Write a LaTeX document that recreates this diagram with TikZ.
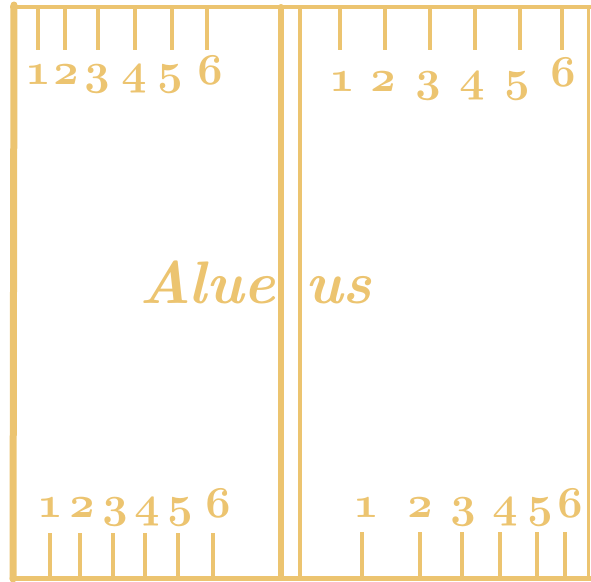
\RequirePackage{fix-cm}
\documentclass[tikz,border=0pt]{standalone}
\usepackage{tikz}
\usetikzlibrary{positioning}
\definecolor{boardgold}{RGB}{236,196,112}
\newcommand{\osn}[1]{$\mathnormal{#1}$}

\begin{document}
\begin{tikzpicture}[x={(1pt,0)}, y={(0,-1pt)}]
\tikzset{
  frame/.style={draw=boardgold, line width=4pt, line cap=round},
  tick/.style={draw=boardgold, line width=4pt},
  num/.style={text=boardgold, anchor=base, inner sep=0pt,
    font=\fontsize{44}{44}\selectfont\boldmath},
  word/.style={text=boardgold, inner sep=0pt,
    font=\fontsize{60}{60}\selectfont\bfseries\itshape}
}
\useasboundingbox (0,0) rectangle (591,581);

\draw[frame, line width=7pt] (14,5) -- (13,579);
\draw[frame] (12,7) -- (591,7);
\draw[frame, line width=3pt] (588,7) -- (588,578);
\draw[frame, line width=5pt] (12,578) -- (591,578);

\node[word, anchor=base east] (alue) at (276,303) {Alue};
\node[word, anchor=base west] (us) at (305,303) {us};

\draw[frame, line width=6pt] (281,7) -- (281,578);
\draw[frame] (300,7) -- (300,578);

\draw[tick] (38,7) -- (38,50);
\draw[tick] (65,7) -- (65,50);
\draw[tick] (98,7) -- (98,50);
\draw[tick] (135,7) -- (135,50);
\draw[tick] (172,7) -- (172,50);
\draw[tick] (207,7) -- (207,50);

\draw[tick] (340,7) -- (340,50);
\draw[tick] (385,7) -- (385,50);
\draw[tick] (430,7) -- (430,50);
\draw[tick] (475,7) -- (475,50);
\draw[tick] (520,7) -- (520,50);
\draw[tick] (562,7) -- (562,50);

\draw[tick] (50,533) -- (50,578);
\draw[tick] (80,533) -- (80,578);
\draw[tick] (113,533) -- (113,578);
\draw[tick] (145,533) -- (145,578);
\draw[tick] (178,533) -- (178,578);
\draw[tick] (213,533) -- (213,578);

\draw[tick] (362,532) -- (362,578);
\draw[tick] (420,532) -- (420,578);
\draw[tick] (462,532) -- (462,578);
\draw[tick] (500,532) -- (500,578);
\draw[tick] (537,532) -- (537,578);
\draw[tick] (565,532) -- (565,578);

\node[num] (tl1) at (38,84) {\osn{1}};
\node[num] (tl2) at (66,84) {\osn{2}};
\node[num] (tl3) at (97,84) {\osn{3}};
\node[num] (tl4) at (134,84) {\osn{4}};
\node[num] (tl5) at (170,84) {\osn{5}};
\node[num] (tl6) at (210,84) {\osn{6}};

\node[num] (tr1) at (342,91) {\osn{1}};
\node[num] (tr2) at (383,91) {\osn{2}};
\node[num] (tr3) at (428,91) {\osn{3}};
\node[num] (tr4) at (472,91) {\osn{4}};
\node[num] (tr5) at (517,91) {\osn{5}};
\node[num] (tr6) at (563,86) {\osn{6}};

\node[num] (bl1) at (50,517) {\osn{1}};
\node[num] (bl2) at (82,517) {\osn{2}};
\node[num] (bl3) at (115,517) {\osn{3}};
\node[num] (bl4) at (147,517) {\osn{4}};
\node[num] (bl5) at (180,517) {\osn{5}};
\node[num] (bl6) at (218,517) {\osn{6}};

\node[num] (br1) at (366,517) {\osn{1}};
\node[num] (br2) at (420,517) {\osn{2}};
\node[num] (br3) at (463,517) {\osn{3}};
\node[num] (br4) at (505,517) {\osn{4}};
\node[num] (br5) at (540,517) {\osn{5}};
\node[num] (br6) at (570,517) {\osn{6}};
\end{tikzpicture}
\end{document}
